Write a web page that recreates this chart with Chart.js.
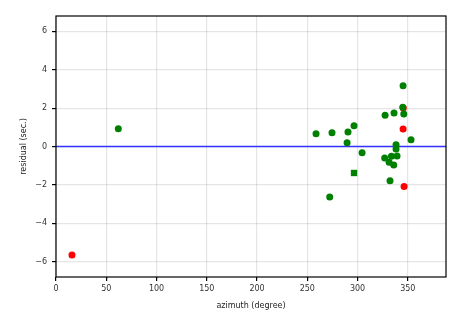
<!DOCTYPE html>
<html>
<head>
<meta charset="utf-8">
<script src="https://cdn.jsdelivr.net/npm/chart.js@4/dist/chart.umd.min.js"></script>
<style>
html,body{margin:0;padding:0;background:#fff;}
#wrap{width:465px;height:315px;}
</style>
</head>
<body>
<div id="wrap"><canvas id="c" width="465" height="315"></canvas></div>
<script>
const xTicks = [0, 50, 100, 150, 200, 250, 300, 350];
const yTicks = [-6, -4, -2, 0, 2, 4, 6];

const greenAz = [345.3, 345.0, 346.0, 327.4, 336.3, 296.5, 290.5, 274.6, 258.7, 289.6, 353.2, 338.3, 338.3, 304.5, 327.0, 333.7, 339.3, 331.4, 336.0, 332.3, 272.3, 62.0];
const greenRes = [3.16, 2.05, 1.69, 1.63, 1.74, 1.08, 0.75, 0.71, 0.66, 0.20, 0.35, 0.09, -0.13, -0.32, -0.60, -0.51, -0.50, -0.82, -0.96, -1.78, -2.63, 0.92];

const redAz = [345.5, 345.3, 346.3, 15.9];
const redRes = [2.0, 0.91, -2.09, -5.66];

const squareAz = [296.5];
const squareRes = [-1.38];

const zeroLineX = [0, 388];
const zeroLineY = [0, 0];

const toPts = (xs, ys) => xs.map((x, i) => ({x, y: ys[i]}));

const frame = {
  id: 'frame',
  afterDraw(chart) {
    const a = chart.chartArea, ctx = chart.ctx;
    ctx.save();
    ctx.strokeStyle = '#000';
    ctx.lineWidth = 1.2;
    ctx.strokeRect(a.left, a.top, a.right - a.left, a.bottom - a.top);
    ctx.restore();
  }
};

const font = {family: 'DejaVu Sans', size: 8};

new Chart(document.getElementById('c'), {
  type: 'scatter',
  data: {
    datasets: [
      {data: toPts(greenAz, greenRes), backgroundColor: '#008000', borderColor: '#008000', pointRadius: 3.5, pointBorderWidth: 0},
      {data: toPts(squareAz, squareRes), pointStyle: 'rect', backgroundColor: '#008000', borderColor: '#008000', pointRadius: 4.5, pointBorderWidth: 0},
      {data: toPts(redAz, redRes), backgroundColor: '#ff0000', borderColor: '#ff0000', pointRadius: 3.5, pointBorderWidth: 0},
      {type: 'line', data: toPts(zeroLineX, zeroLineY), borderColor: '#3333ff', borderWidth: 1.5, pointRadius: 0, fill: false}
    ]
  },
  options: {
    responsive: false,
    animation: false,
    devicePixelRatio: 1,
    layout: {padding: {left: 0, right: 19, top: 16, bottom: 0}},
    plugins: {legend: {display: false}, tooltip: {enabled: false}},
    scales: {
      x: {
        type: 'linear', min: 0, max: 388,
        afterBuildTicks: s => { s.ticks = xTicks.map(v => ({value: v})); },
        afterFit: s => { s.height = 38; },
        grid: {color: 'rgba(0,0,0,0.1)', lineWidth: 1.2, tickColor: '#000', tickLength: 4},
        border: {display: false},
        ticks: {font, color: '#333', maxRotation: 0, padding: 3},
        title: {display: true, text: 'azimuth (degree)', font, color: '#222', padding: {top: 1}}
      },
      y: {
        type: 'linear', min: -6.8, max: 6.8,
        afterBuildTicks: s => { s.ticks = yTicks.map(v => ({value: v})); },
        afterFit: s => { s.width = 56; },
        grid: {color: 'rgba(0,0,0,0.1)', lineWidth: 1.2, tickColor: '#000', tickLength: 4},
        border: {display: false},
        ticks: {font, color: '#333', padding: 5, callback: v => String(v).replace('-', '\u2212')},
        title: {display: true, text: 'residual (sec.)', font, color: '#222', padding: {bottom: 0, top: 19}}
      }
    }
  },
  plugins: [frame]
});
</script>
</body>
</html>
